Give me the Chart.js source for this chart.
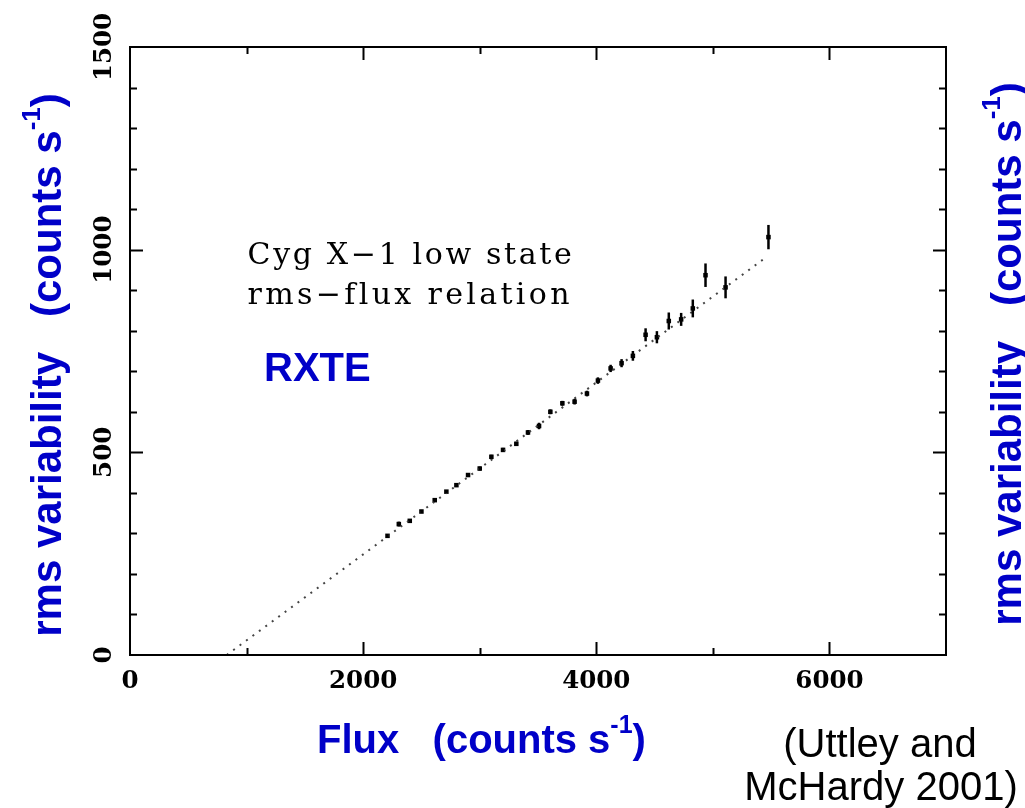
<!DOCTYPE html>
<html><head><meta charset="utf-8">
<script src="https://cdn.jsdelivr.net/npm/chart.js@4.4.1/dist/chart.umd.min.js"></script>
<style>html,body{margin:0;padding:0;background:#fff;}#wrap{width:1025px;height:808px;position:relative;}</style>
</head><body><div id="wrap"><canvas id="c" width="1025" height="808"></canvas></div>
<script>
// ---- data ----
const flux   = [2209, 2306, 2400, 2500, 2614, 2714, 2800, 2900, 3000, 3100, 3200, 3314, 3414, 3509, 3606, 3709, 3814, 3920, 4014, 4123, 4217, 4314, 4423, 4520, 4622, 4728, 4828, 4937, 5109, 5477];
const rms    = [294, 323, 331, 354, 382, 403, 419, 444, 460, 489, 506, 521, 549, 565, 600, 621, 625, 645, 677, 707, 720, 738, 790, 784, 824, 828, 855, 937, 907, 1031];
const rmsErr = [4, 6, 4, 4, 4, 4, 4, 4, 5, 5, 5, 5, 6, 8, 6, 6, 7, 7, 8, 9, 10, 12, 16, 15, 21, 16, 22, 29, 27, 30];
const fitFlux = [830, 5460];
const fitRms  = [0, 982];
const xTickLabels = ['0', '2000', '4000', '6000'];
const yTickLabels = ['0', '500', '1000', '1500'];
const noteLines = ['Cyg X\u22121 low state', 'rms\u2212flux relation'];
const instrumentLabel = 'RXTE';
const xTitle = [{t: 'Flux   (counts s'}, {t: '-1', sup: true}, {t: ')'}];
const yTitle = [{t: 'rms variability   (counts s'}, {t: '-1', sup: true}, {t: ')'}];
const citation = ['(Uttley and', 'McHardy 2001)'];

const BLUE = '#0000C8';
const TICK_FONT = 'bold 24.5px "DejaVu Serif", serif';

function richWidth(ctx, segs, size, supSize) {
  let w = 0;
  segs.forEach(s => {
    ctx.font = 'bold ' + (s.sup ? supSize : size) + 'px "Liberation Sans", Arial, sans-serif';
    w += ctx.measureText(s.t).width;
  });
  return w;
}
function paintRich(ctx, segs, size, supSize, rise, x0, y0) {
  let x = x0;
  segs.forEach(s => {
    ctx.font = 'bold ' + (s.sup ? supSize : size) + 'px "Liberation Sans", Arial, sans-serif';
    ctx.fillText(s.t, x, s.sup ? y0 - rise : y0);
    x += ctx.measureText(s.t).width;
  });
}
// draw text char by char, spreading it to a given total width
function spreadText(ctx, str, x, y, totalW) {
  const chars = [...str];
  const natural = chars.reduce((w, ch) => w + ctx.measureText(ch).width, 0);
  const sp = (totalW - natural) / (chars.length - 1);
  chars.forEach(ch => {
    ctx.fillText(ch, x, y);
    x += ctx.measureText(ch).width + sp;
  });
}

const framePlugin = {
  id: 'frame',
  afterDatasetsDraw(chart) {
    const {ctx, scales: {x: xs, y: ys}} = chart;
    ctx.save();
    ctx.strokeStyle = '#000';
    ctx.lineWidth = 2.5;
    flux.forEach((f, i) => {
      const px = xs.getPixelForValue(f);
      ctx.beginPath();
      ctx.moveTo(px, ys.getPixelForValue(rms[i] - rmsErr[i]));
      ctx.lineTo(px, ys.getPixelForValue(rms[i] + rmsErr[i]));
      ctx.stroke();
    });
    ctx.restore();
  },
  afterDraw(chart) {
    const {ctx, chartArea: a, scales: {x: xs, y: ys}} = chart;
    ctx.save();
    ctx.strokeStyle = '#000';
    ctx.lineWidth = 2;
    ctx.strokeRect(a.left, a.top, a.right - a.left, a.bottom - a.top);
    ctx.beginPath();
    for (let v = 1000; v < 7000; v += 1000) {
      const px = Math.round(xs.getPixelForValue(v)) + 0.5;
      const L = v % 2000 === 0 ? 13 : 7;
      ctx.moveTo(px, a.bottom); ctx.lineTo(px, a.bottom - L);
      ctx.moveTo(px, a.top); ctx.lineTo(px, a.top + L);
    }
    for (let v = 100; v < 1500; v += 100) {
      const py = Math.round(ys.getPixelForValue(v)) + 0.5;
      const L = v % 500 === 0 ? 13 : 7;
      ctx.moveTo(a.left, py); ctx.lineTo(a.left + L, py);
      ctx.moveTo(a.right, py); ctx.lineTo(a.right - L, py);
    }
    ctx.stroke();

    // y tick labels (rotated)
    ctx.fillStyle = '#000';
    ctx.font = TICK_FONT;
    ctx.textAlign = 'center';
    ctx.textBaseline = 'alphabetic';
    yTickLabels.forEach(lbl => {
      const py = ys.getPixelForValue(Number(lbl));
      ctx.save();
      ctx.translate(a.left - 19, py);
      ctx.rotate(-Math.PI / 2);
      ctx.fillText(lbl, 0, 0);
      ctx.restore();
    });

    // note text
    ctx.textAlign = 'left';
    ctx.font = '30px "DejaVu Serif", serif';
    const nx = xs.getPixelForValue(1000) + 1;
    spreadText(ctx, noteLines[0], nx, ys.getPixelForValue(965), xs.getPixelForValue(3790) - nx);
    spreadText(ctx, noteLines[1], nx, ys.getPixelForValue(867), xs.getPixelForValue(3770) - nx);

    // RXTE
    ctx.fillStyle = BLUE;
    ctx.font = 'bold 40px "Liberation Sans", Arial, sans-serif';
    ctx.fillText(instrumentLabel, xs.getPixelForValue(1150), ys.getPixelForValue(675));

    // x title
    paintRich(ctx, xTitle, 40, 25, 20, 317, 753);

    // y titles (left and right)
    const tw = richWidth(ctx, yTitle, 42, 26);
    [[61, 365], [1021, 354]].forEach(([bx, cy]) => {
      ctx.save();
      ctx.translate(bx, cy + tw / 2);
      ctx.rotate(-Math.PI / 2);
      paintRich(ctx, yTitle, 42, 26, 21, 0, 0);
      ctx.restore();
    });

    // citation
    ctx.fillStyle = '#000';
    ctx.textAlign = 'center';
    ctx.font = '40px "Liberation Sans", Arial, sans-serif';
    ctx.fillText(citation[0], 880, 757);
    ctx.fillText(citation[1], 881, 800);
    ctx.restore();
  }
};

new Chart(document.getElementById('c'), {
  type: 'scatter',
  data: {
    datasets: [
      {
        type: 'line',
        data: fitFlux.map((f, i) => ({x: f, y: fitRms[i]})),
        borderColor: '#444',
        borderWidth: 2,
        borderDash: [2, 6],
        pointRadius: 0,
        fill: false
      },
      {
        data: flux.map((f, i) => ({x: f, y: rms[i]})),
        pointStyle: 'rect',
        pointRadius: 3.2,
        backgroundColor: '#000',
        borderColor: '#000',
        borderWidth: 0
      }
    ]
  },
  options: {
    responsive: false,
    animation: false,
    devicePixelRatio: 1,
    layout: {padding: {top: 47, right: 79, left: 0, bottom: 0}},
    plugins: {legend: {display: false}, tooltip: {enabled: false}, title: {display: false}},
    scales: {
      x: {
        type: 'linear', min: 0, max: 7000,
        afterBuildTicks: s => { s.ticks = xTickLabels.map(v => ({value: Number(v)})); },
        afterFit: s => { s.height = 153; },
        grid: {display: false, drawTicks: false},
        border: {display: false},
        ticks: {
          color: '#000', padding: 12, maxRotation: 0,
          font: {family: '"DejaVu Serif", serif', size: 24.5, weight: 'bold'},
          callback: v => String(v)
        }
      },
      y: {
        type: 'linear', min: 0, max: 1500,
        afterBuildTicks: s => { s.ticks = yTickLabels.map(v => ({value: Number(v)})); },
        afterFit: s => { s.width = 130; },
        grid: {display: false, drawTicks: false},
        border: {display: false},
        ticks: {display: false}
      }
    }
  },
  plugins: [framePlugin]
});
</script>
</body></html>
